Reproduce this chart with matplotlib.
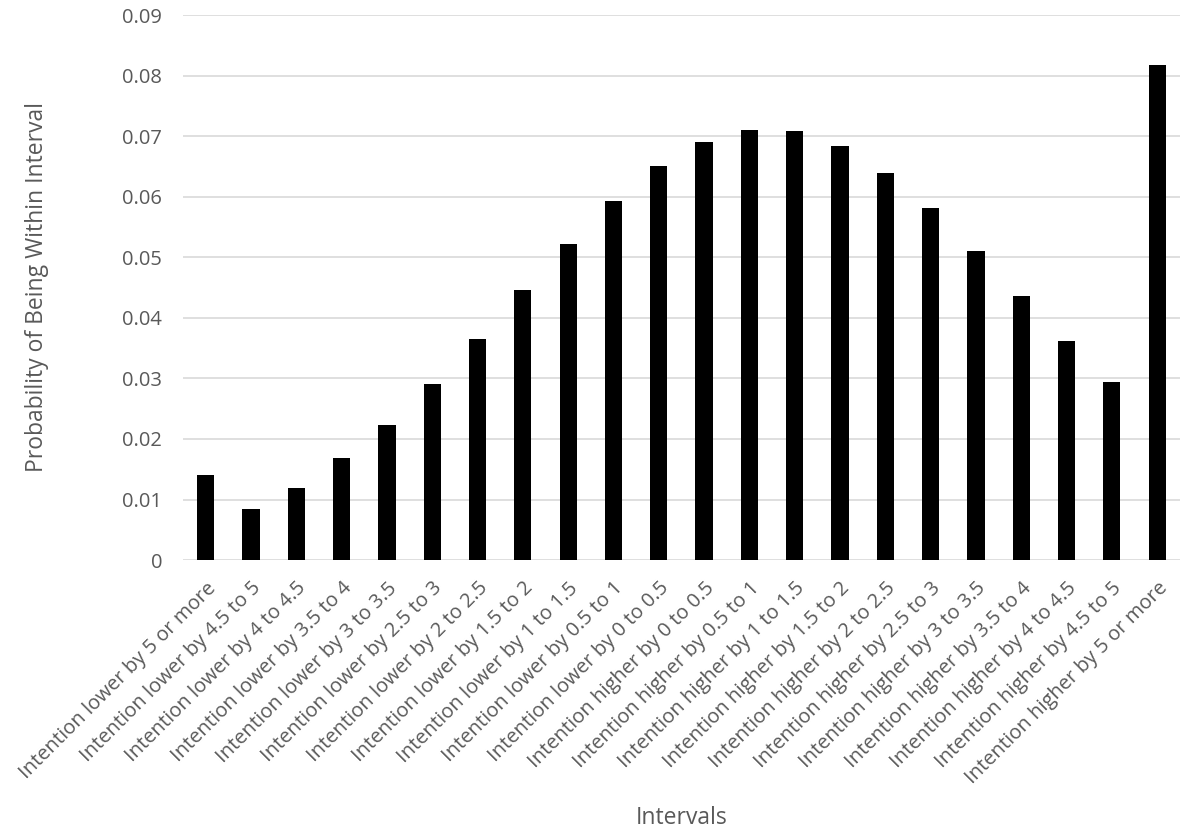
import matplotlib
matplotlib.use('Agg')
import matplotlib.pyplot as plt
import numpy as np

plt.rcParams['font.family'] = ['Open Sans', 'DejaVu Sans']

# ========== 数据 ==========
categories = [
    'Intention lower by 5 or more', 'Intention lower by 4.5 to 5',
    'Intention lower by 4 to 4.5', 'Intention lower by 3.5 to 4',
    'Intention lower by 3 to 3.5', 'Intention lower by 2.5 to 3',
    'Intention lower by 2 to 2.5', 'Intention lower by 1.5 to 2',
    'Intention lower by 1 to 1.5', 'Intention lower by 0.5 to 1',
    'Intention lower by 0 to 0.5', 'Intention higher by 0 to 0.5',
    'Intention higher by 0.5 to 1', 'Intention higher by 1 to 1.5',
    'Intention higher by 1.5 to 2', 'Intention higher by 2 to 2.5',
    'Intention higher by 2.5 to 3', 'Intention higher by 3 to 3.5',
    'Intention higher by 3.5 to 4', 'Intention higher by 4 to 4.5',
    'Intention higher by 4.5 to 5', 'Intention higher by 5 or more',
]
probs = [0.0140, 0.0084, 0.0119, 0.0169, 0.0223, 0.0291, 0.0365, 0.0446,
         0.0522, 0.0593, 0.0651, 0.0691, 0.0711, 0.0709, 0.0683, 0.0640,
         0.0582, 0.0511, 0.0436, 0.0362, 0.0294, 0.0818]
yticks = [0, 0.01, 0.02, 0.03, 0.04, 0.05, 0.06, 0.07, 0.08, 0.09]
ytick_labels = ['0', '0.01', '0.02', '0.03', '0.04', '0.05', '0.06', '0.07', '0.08', '0.09']

txt = '#595959'

fig = plt.figure(figsize=(11.81, 8.36), dpi=100)
ax = fig.add_axes([0.155, 0.330, 0.844, 0.652])

x = np.arange(len(categories))
ax.bar(x, probs, width=0.38, color='black', zorder=3)

ax.set_xlim(-0.5, len(categories) - 0.5)
ax.set_ylim(0, 0.09)
ax.set_yticks(yticks)
ax.set_yticklabels(ytick_labels, fontsize=14.5, color=txt)
ax.set_xticks(x)
ax.set_xticklabels(categories, rotation=45, ha='right', rotation_mode='anchor',
                   fontsize=14.5, color=txt)
ax.tick_params(axis='both', length=0)
ax.tick_params(axis='y', pad=15)
ax.tick_params(axis='x', pad=13)

for s in ax.spines.values():
    s.set_visible(False)
ax.grid(True, axis='y', color='#d9d9d9', linewidth=1.2, zorder=0)
ax.set_axisbelow(True)

fig.text(0.031, 0.657, 'Probability of Being Within Interval', fontsize=16.5,
         color=txt, rotation=90, ha='center', va='center')
fig.text(0.5775, 0.0215, 'Intervals', fontsize=16.5, color=txt, ha='center', va='center')

fig.savefig('out.png', dpi=100)
